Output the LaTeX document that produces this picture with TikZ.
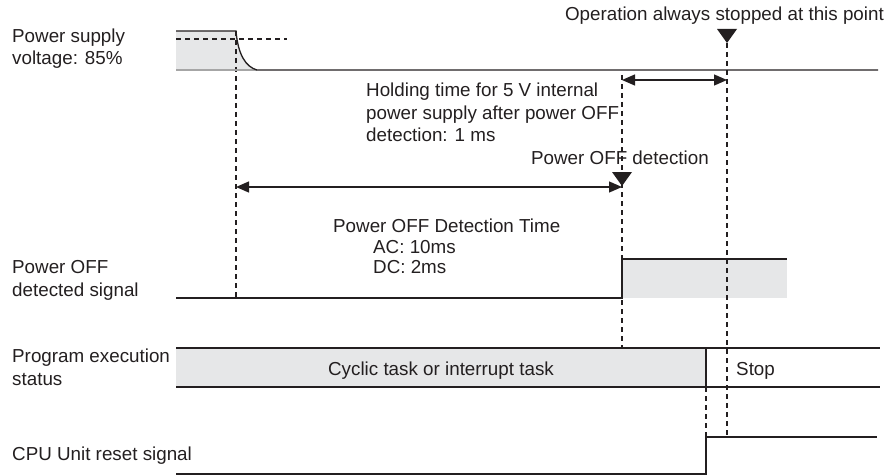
\documentclass[tikz,border=0pt]{standalone}
\usepackage{fontspec}
\setmainfont{Liberation Sans}
\usetikzlibrary{arrows.meta,positioning,calc}
\definecolor{ink}{HTML}{231F20}
\definecolor{lightfill}{HTML}{E6E7E8}
\tikzset{
  trace/.style={draw=ink, line width=1.3pt},
  level/.style={fill=lightfill},
  guide/.style={draw=ink, line width=1.2pt, dash pattern=on 5pt off 4pt},
  span/.style={{Triangle[length=13pt,width=11pt]}-{Triangle[length=13pt,width=11pt]}, draw=ink, line width=1.3pt},
  lbl/.style={font=\fontsize{18.8}{22.5}\selectfont, text=ink, inner sep=0pt, align=left},
}
\begin{document}
\begin{tikzpicture}[x=1pt,y=-1pt]
    \useasboundingbox (0,0) rectangle (888,476);
    % shaded levels
    \path[level] (176,31) -- (236,31) .. controls (238,55) and (246,67) .. (257,70) -- (176,70) -- cycle;
    \path[level] (622,259) rectangle (787,298);
    \path[level] (176,348) rectangle (706,387);
    % guide lines
    \draw[guide] (176,39) -- (287,39);
    \draw[guide] (236,31) -- (236,298);
    \draw[guide] (622,75) -- (622,348);
    \draw[guide] (727,43) -- (727,437);
    \draw[guide] (706,387) -- (706,437);
    % signal traces
    \draw[line width=1.3pt, draw=gray!70] (176,70) -- (257,70);
    \draw[trace] (176,31) -- (236,31) .. controls (238,55) and (246,67) .. (257,70) -- (878,70);
    \draw[trace] (176,298) -- (622,298) -- (622,259) -- (787,259);
    \draw[trace] (176,348) -- (880,348) (176,387) -- (880,387) (706,348) -- (706,387);
    \draw[trace] (176,474) -- (706,474) -- (706,437) -- (877,437);
    % markers
    \coordinate (stp) at (727,43);
    \coordinate (det) at (622,186);
    \fill[ink] (stp) -- ++(-10,-14) -- ++(20,0) -- cycle;
    \fill[ink] (det) -- ++(-10,-14) -- ++(20,0) -- cycle;
    % spans
    \coordinate (hold1) at (622,80);
    \coordinate (hold2) at (727,80);
    \coordinate (off1) at (236,187);
    \coordinate (off2) at (622,187);
    \draw[span] (hold1) -- (hold2);
    \draw[span] (off1) -- (off2);
    % labels (base = last line)
    \node[lbl, anchor=base west] (supply) at (12,65) {Power supply\\voltage: 85\%};
    \node[lbl, anchor=base west] (offsig) at (12,296) {Power OFF\\detected signal};
    \node[lbl, anchor=base west] (prog) at (12,385) {Program execution\\status};
    \node[lbl, anchor=base west] (reset) at (12,460) {CPU Unit reset signal};
    \node[lbl, anchor=base east] (oper) at (884,21) {Operation always stopped at this point};
    \node[lbl, anchor=base west] (hold) at (366,142) {Holding time for 5 V internal\\power supply after power OFF\\detection: 1 ms};
    \node[lbl, anchor=base east] (detlbl) at (709,164) {Power OFF detection};
    \node[lbl, anchor=base west] (dettime) at (333,232) {Power OFF Detection Time};
    \node[lbl, anchor=base west] (acdc) at (373,273) {AC: 10ms\\[-3pt]DC: 2ms};
    \node[lbl, anchor=base] (cyclic) at (441,375) {Cyclic task or interrupt task};
    \node[lbl, anchor=base west] (stop) at (736,375) {Stop};
  \end{tikzpicture}
\end{document}
